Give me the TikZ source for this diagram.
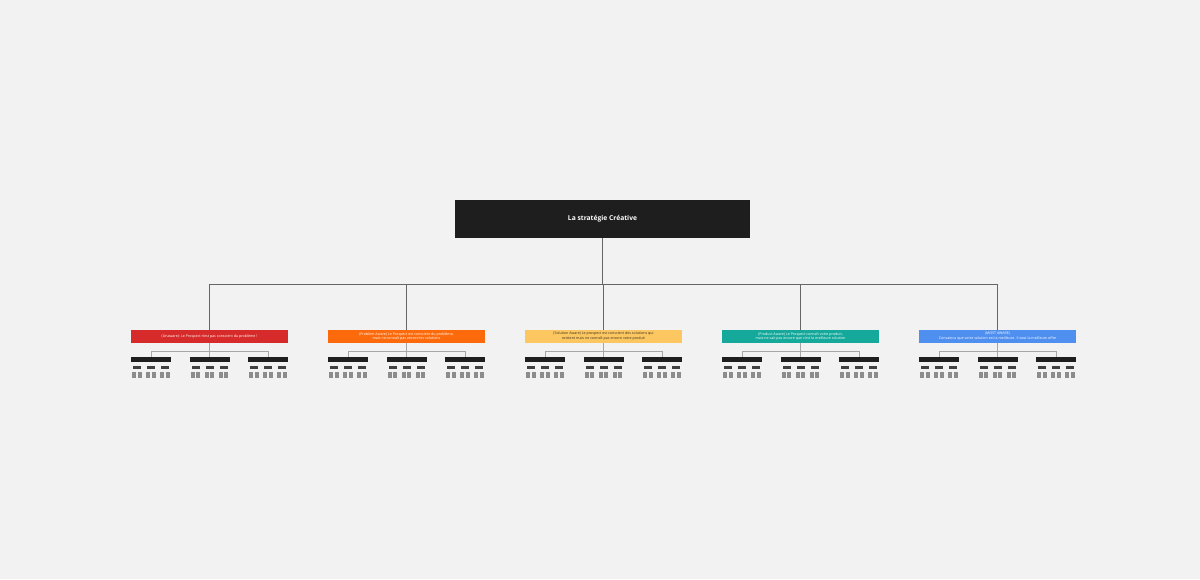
\documentclass[tikz,border=0pt]{standalone}
\usepackage{fontspec}
\setmainfont{Open Sans}
\usetikzlibrary{positioning}
\definecolor{bg}{HTML}{F2F2F2}
\definecolor{dark}{HTML}{1E1E1E}
\definecolor{awred}{HTML}{D72B2B}
\definecolor{aworange}{HTML}{FD6A0B}
\definecolor{awyellow}{HTML}{FCC661}
\definecolor{awteal}{HTML}{14A99B}
\definecolor{awblue}{HTML}{4F8FEF}
\definecolor{yeltext}{HTML}{3A3320}
\tikzset{
	rootbox/.style={fill=dark,text=white,minimum width=295pt,minimum height=38pt,inner sep=0pt,font=\fontsize{6.7}{8}\selectfont\bfseries},
	levelbox/.style={minimum width=157pt,minimum height=13pt,inner sep=0pt,align=center,font=\fontsize{3.6}{4.9}\selectfont},
	barbox/.style={fill=dark,minimum width=40pt,minimum height=4.5pt,inner sep=0pt},
	tagbox/.style={fill=dark!85,minimum width=8pt,minimum height=3pt,inner sep=0pt},
	cellbox/.style={fill=black!45,minimum width=4pt,minimum height=5.5pt,inner sep=0pt},
	link/.style={draw=black!60,line width=0.9pt},
	sublink/.style={draw=black!35,line width=0.7pt}
}
\begin{document}
\begin{tikzpicture}[x=1pt,y=-1pt]
	\fill[bg] (0,0) rectangle (1200,579);
	\node[rootbox] (root) at (602.5,219) {La stratégie Créative};
	\coordinate (bus) at (602.5,284);
	\draw[link] (root.south) -- (bus);
	\foreach \i/\col/\tcol/\txt in {
		1/awred/white/{(Unaware): Le Prospect n'est pas conscient du problème !},
		2/aworange/white/{(Problem Aware) Le Prospect est conscient du problème,\\mais ne connaît pas encore les solutions},
		3/awyellow/yeltext/{(Solution Aware) Le prospect est conscient des solutions qui\\existent mais ne connaît pas encore votre produit},
		4/awteal/white/{(Product Aware) Le Prospect connaît votre produit,\\mais ne sait pas encore que c'est la meilleure solution},
		5/awblue/white/{(MOST AWARE)\\Convaincu que votre solution est la meilleure. Il veut la meilleure offre}}{
		\node[levelbox,fill=\col,text=\tcol] (aware\i) at (209.5+197*\i-197,336.5) {\txt};
		\draw[link] (bus) -| (aware\i.north);
		\coordinate[below=8pt of aware\i.south] (fork\i);
		\draw[sublink] (aware\i.south) -- (fork\i);
		\foreach \j/\dx in {1/-58.5,2/0,3/58.5}{
			\node[barbox,below=14pt of aware\i,xshift=\dx pt] (bar\i-\j) {};
			\draw[sublink] (fork\i) -| (bar\i-\j.north);
			\foreach \k/\tx in {1/-14,2/0,3/14}{
				\node[tagbox,below=4pt of bar\i-\j,xshift=\tx pt] (tag\i-\j-\k) {};
				\node[cellbox,below=2.5pt of tag\i-\j-\k,xshift=-2.7pt] (cell\i-\j-\k a) {};
				\node[cellbox,below=2.5pt of tag\i-\j-\k,xshift=2.7pt] (cell\i-\j-\k b) {};
			}
		}
	}
\end{tikzpicture}
\end{document}
